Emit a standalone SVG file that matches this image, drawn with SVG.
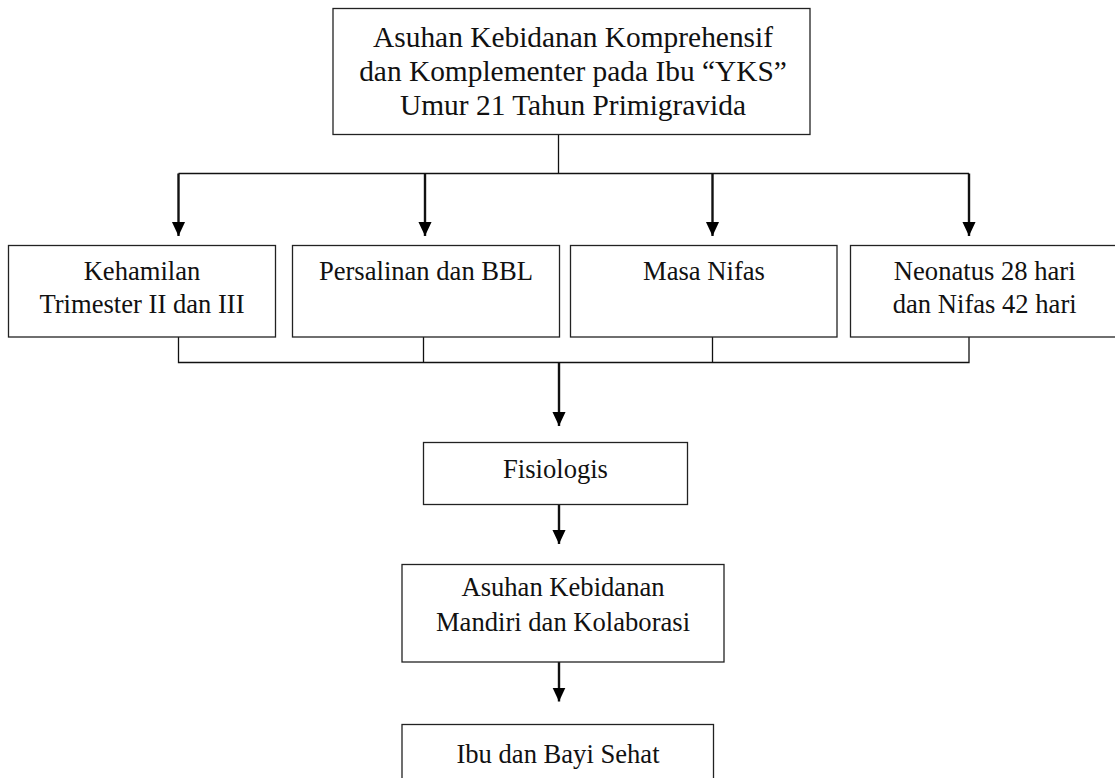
<svg xmlns="http://www.w3.org/2000/svg" width="1115" height="778" viewBox="0 0 1115 778">
<style>
.box{fill:#fff;stroke:#222;stroke-width:1.3}
.t{font-family:"Liberation Serif","Times New Roman",serif;font-size:26.6px;fill:#111;text-anchor:middle}
.tt{font-size:29.4px}
.ln{stroke:#111;stroke-width:1.3;fill:none}
.ar{stroke:#111;stroke-width:2.4;fill:none;marker-end:url(#ah)}
</style>
<defs>
<marker id="ah" markerUnits="userSpaceOnUse" markerWidth="14" markerHeight="15" refX="15" refY="7" orient="auto" viewBox="0 0 15 14">
<path d="M0,0 L15,7 L0,14 z" fill="#000"/>
</marker>
</defs>
<rect width="1115" height="778" fill="#fff"/>
<g id="connectors">
<line class="ln" x1="558.5" y1="134.5" x2="558.5" y2="173.5"/>
<line class="ln" x1="178.5" y1="173.5" x2="969" y2="173.5"/>
<line class="ar" x1="178.5" y1="173.5" x2="178.5" y2="236"/>
<line class="ar" x1="425" y1="173.5" x2="425" y2="236"/>
<line class="ar" x1="712.5" y1="173.5" x2="712.5" y2="236"/>
<line class="ar" x1="969" y1="173.5" x2="969" y2="236"/>
<path class="ln" d="M178.5,337 V362.5 H969 V337 M423.5,337 V362.5 M712.5,337 V362.5"/>
<line class="ar" x1="559" y1="362.5" x2="559" y2="426"/>
<line class="ar" x1="559" y1="504.5" x2="559" y2="544"/>
<line class="ar" x1="559" y1="662" x2="559" y2="701.5"/>
</g>
<g id="node-top">
<rect class="box" x="333" y="8.5" width="477" height="126"/>
<text class="t tt" x="573" y="47">Asuhan Kebidanan Komprehensif</text>
<text class="t tt" x="573" y="81">dan Komplementer pada Ibu “YKS”</text>
<text class="t tt" x="573" y="115">Umur 21 Tahun Primigravida</text>
</g>
<g id="node-kehamilan">
<rect class="box" x="8.5" y="245.5" width="267" height="91.5"/>
<text class="t" x="142" y="280">Kehamilan</text>
<text class="t" x="142" y="312.7">Trimester II dan III</text>
</g>
<g id="node-persalinan">
<rect class="box" x="292.5" y="245.5" width="267" height="91.5"/>
<text class="t" x="426" y="280">Persalinan dan BBL</text>
</g>
<g id="node-nifas">
<rect class="box" x="570.5" y="245.5" width="266.5" height="91.5"/>
<text class="t" x="704" y="280">Masa Nifas</text>
</g>
<g id="node-neonatus">
<rect class="box" x="850.5" y="245.5" width="268" height="91.5"/>
<text class="t" x="984.7" y="280">Neonatus 28 hari</text>
<text class="t" x="984.7" y="312.7">dan Nifas 42 hari</text>
</g>
<g id="node-fisiologis">
<rect class="box" x="423.5" y="442.5" width="264" height="62"/>
<text class="t" x="555.5" y="478">Fisiologis</text>
</g>
<g id="node-asuhan">
<rect class="box" x="402" y="564.5" width="322" height="97.5"/>
<text class="t" x="563" y="596">Asuhan Kebidanan</text>
<text class="t" x="563" y="631">Mandiri dan Kolaborasi</text>
</g>
<g id="node-sehat">
<rect class="box" x="402" y="724.5" width="311.5" height="60"/>
<text class="t" x="558" y="763">Ibu dan Bayi Sehat</text>
</g>
</svg>
